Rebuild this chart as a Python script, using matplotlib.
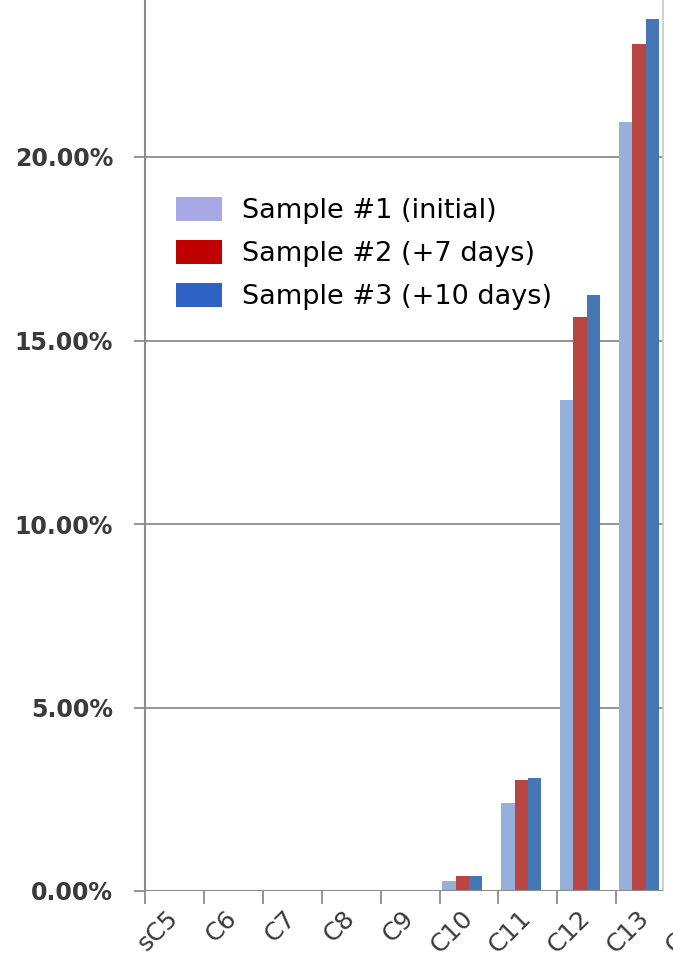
import numpy as np
import matplotlib
matplotlib.use("Agg")
import matplotlib.pyplot as plt
from matplotlib.patches import Patch
from matplotlib.ticker import PercentFormatter

# data (fractions)
categories = ["sC5", "C6", "C7", "C8", "C9", "C10", "C11", "C12", "C13", "C14"]
sample1 = [0.0, 0.0, 0.0, 0.0, 0.0, 0.0028, 0.0241, 0.1338, 0.2096]
sample2 = [0.0, 0.0, 0.0, 0.0, 0.0, 0.0042, 0.0302, 0.1564, 0.2307]
sample3 = [0.0, 0.0, 0.0, 0.0, 0.0, 0.0042, 0.0309, 0.1624, 0.2375]
labels = ["Sample #1 (initial)", "Sample #2 (+7 days)", "Sample #3 (+10 days)"]
yticks = [0.0, 0.05, 0.10, 0.15, 0.20]

bar_colors = ["#95B0DA", "#B84542", "#4677B5"]
legend_colors = ["#A8A8E6", "#C00000", "#2E62C5"]
grid_col = "#8C8C8C"
text_col = "#3A3A3A"

W, H = 673, 966
fig = plt.figure(figsize=(W / 100, H / 100), dpi=100)

# axes: category width ~58.9 px, left edge at 145 px, zero line at 891 px
cat_px = 58.9
x_left = -0.5
x_right = x_left + (W + 70 - 145) / cat_px
ax = fig.add_axes([145 / W, (H - 891) / H, (W + 70 - 145) / W, 891 / H])
ax.set_xlim(x_left, x_right)
ax.set_ylim(0, 891 / 36.7 / 100)

x_end = x_left + (663 - 145) / cat_px  # visible plot edge

# bars: four slots per category, only three series present
w = 0.226
x = np.arange(len(sample1))
for k, (vals, c) in enumerate(zip([sample1, sample2, sample3], bar_colors)):
    ax.bar(x - 2 * w + k * w, vals, width=w, align="edge", color=c,
           edgecolor="none", zorder=3)

# gridlines stop at the visible edge
for yv in yticks[1:]:
    ax.hlines(yv, x_left, x_end, color=grid_col, lw=1.3, zorder=1)
ax.hlines(0, x_left, x_end, color=grid_col, lw=1.5, zorder=4)
ax.vlines(x_end, 0, 1, color="#C8C8C8", lw=1.2,
          transform=ax.get_xaxis_transform(), zorder=1)

for s in ["top", "right", "bottom"]:
    ax.spines[s].set_visible(False)
ax.spines["left"].set_color(grid_col)
ax.spines["left"].set_linewidth(1.5)

ax.set_yticks(yticks)
ax.yaxis.set_major_formatter(PercentFormatter(1.0, decimals=2))
ax.tick_params(axis="y", direction="out", length=8, width=1.3, color=grid_col,
               labelsize=17, labelcolor=text_col, pad=15)
for t in ax.get_yticklabels():
    t.set_fontweight("bold")

ax.set_xticks(np.arange(len(categories)))
ax.set_xticklabels(categories, rotation=45, ha="right", va="center",
                   rotation_mode="anchor")
ax.set_xticks(np.arange(len(categories)) - 0.5, minor=True)
ax.tick_params(axis="x", which="major", length=0, labelsize=18,
               labelcolor=text_col, pad=17)
ax.tick_params(axis="x", which="minor", direction="out", length=9, width=1.3,
               color=grid_col)

handles = [Patch(facecolor=c, edgecolor="none") for c in legend_colors]
leg = fig.legend(handles, labels, loc="upper left",
                 bbox_to_anchor=(162 / W, 1 - 183 / H), fontsize=19.5,
                 frameon=True, fancybox=False, borderpad=0.5,
                 handlelength=1.7, handleheight=1.0, handletextpad=0.75,
                 labelspacing=0.58, borderaxespad=0)
leg.get_frame().set_facecolor("white")
leg.get_frame().set_edgecolor("none")
leg.get_frame().set_alpha(1.0)

fig.savefig("out.png", dpi=100)
